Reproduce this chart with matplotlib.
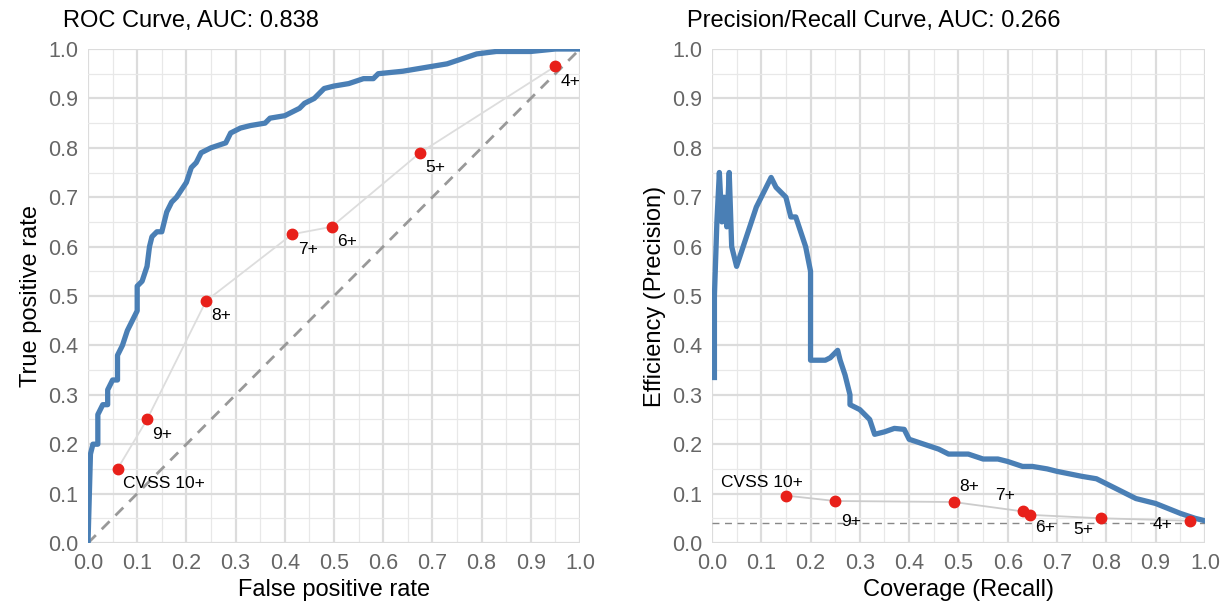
import numpy as np
import matplotlib.pyplot as plt

plt.rcParams['font.family'] = ['Liberation Sans', 'DejaVu Sans']

# ROC curve
roc_fpr = [0, 0.005, 0.01, 0.02, 0.02, 0.03, 0.04, 0.04, 0.05, 0.06, 0.06, 0.07, 0.08,
           0.09, 0.1, 0.1, 0.11, 0.12, 0.125, 0.13, 0.14, 0.15, 0.16, 0.17, 0.18, 0.2,
           0.21, 0.22, 0.23, 0.25, 0.28, 0.29, 0.31, 0.33, 0.36, 0.37, 0.4, 0.41, 0.43,
           0.44, 0.46, 0.48, 0.5, 0.53, 0.56, 0.58, 0.59, 0.64, 0.67, 0.7, 0.73, 0.76,
           0.79, 0.83, 0.9, 0.95, 1.0]
roc_tpr = [0, 0.18, 0.2, 0.2, 0.26, 0.28, 0.28, 0.31, 0.33, 0.33, 0.38, 0.4, 0.43,
           0.45, 0.47, 0.52, 0.53, 0.56, 0.6, 0.62, 0.63, 0.63, 0.67, 0.69, 0.7, 0.73,
           0.76, 0.77, 0.79, 0.8, 0.81, 0.83, 0.84, 0.845, 0.85, 0.86, 0.865, 0.87, 0.88,
           0.89, 0.9, 0.92, 0.925, 0.93, 0.94, 0.94, 0.95, 0.955, 0.96, 0.965, 0.97, 0.98,
           0.99, 0.995, 0.995, 1.0, 1.0]

# precision/recall curve
pr_rec = [0.005, 0.005, 0.01, 0.015, 0.02, 0.025, 0.03, 0.035, 0.04, 0.05, 0.07, 0.09,
          0.11, 0.12, 0.13, 0.14, 0.15, 0.16, 0.17, 0.18, 0.19, 0.2, 0.2, 0.2, 0.21, 0.22,
          0.23, 0.24, 0.255, 0.26, 0.27, 0.28, 0.28, 0.3, 0.32, 0.33, 0.35, 0.37, 0.39,
          0.4, 0.43, 0.46, 0.48, 0.5, 0.52, 0.55, 0.58, 0.6, 0.63, 0.65, 0.68, 0.7, 0.75,
          0.78, 0.8, 0.84, 0.86, 0.9, 0.95, 0.98, 1.0]
pr_prec = [0.335, 0.5, 0.65, 0.75, 0.65, 0.7, 0.64, 0.75, 0.6, 0.56, 0.62, 0.68,
           0.72, 0.74, 0.72, 0.71, 0.7, 0.66, 0.66, 0.63, 0.6, 0.55, 0.5, 0.37, 0.37, 0.37,
           0.37, 0.375, 0.39, 0.37, 0.34, 0.3, 0.28, 0.27, 0.25, 0.22, 0.225, 0.232, 0.23,
           0.21, 0.2, 0.19, 0.18, 0.18, 0.18, 0.17, 0.17, 0.165, 0.155, 0.155, 0.15, 0.145,
           0.135, 0.13, 0.12, 0.1, 0.09, 0.08, 0.06, 0.05, 0.045]

# CVSS threshold points
cvss_labels = ['CVSS 10+', '9+', '8+', '7+', '6+', '5+', '4+']
cvss_fpr = [0.06, 0.12, 0.24, 0.415, 0.495, 0.675, 0.95]
cvss_tpr = [0.15, 0.25, 0.49, 0.625, 0.64, 0.79, 0.965]
cvss_rec = [0.15, 0.25, 0.49, 0.63, 0.645, 0.79, 0.97]
cvss_prec = [0.096, 0.085, 0.083, 0.064, 0.057, 0.05, 0.045]
pr_baseline = 0.04

ticks = np.round(np.arange(0, 1.01, 0.1), 1)
minor = np.round(np.arange(0.05, 1.0, 0.1), 2)

blue = '#4a7fb5'
red = '#e8201a'

fig = plt.figure(figsize=(12.29, 6.11), dpi=100)
ax1 = fig.add_axes([0.0716, 0.1113, 0.4003, 0.8085])
ax2 = fig.add_axes([0.5793, 0.1113, 0.4011, 0.8085])


def style(ax):
    ax.set_xlim(0, 1)
    ax.set_ylim(0, 1)
    ax.set_xticks(ticks)
    ax.set_yticks(ticks)
    ax.set_xticks(minor, minor=True)
    ax.set_yticks(minor, minor=True)
    ax.set_xticklabels(['%.1f' % v for v in ticks])
    ax.set_yticklabels(['%.1f' % v for v in ticks])
    ax.grid(which='major', color='#dcdcdc', lw=1.6)
    ax.grid(which='minor', color='#e8e8e8', lw=0.9)
    ax.set_axisbelow(True)
    for s in ax.spines.values():
        s.set_visible(False)
    ax.tick_params(which='both', length=0, labelsize=15.5, labelcolor='#666666', pad=7)


style(ax1)
ax1.plot([0, 1], [0, 1], ls=(0, (4, 3)), color='#999999', lw=2)
ax1.plot(cvss_fpr, cvss_tpr, color='#dddddd', lw=1.3)
ax1.plot(roc_fpr, roc_tpr, color=blue, lw=3.8, solid_joinstyle='round')
ax1.plot(cvss_fpr, cvss_tpr, 'o', color=red, ms=7.5, zorder=5)
for lab, x, y in zip(cvss_labels, cvss_fpr, cvss_tpr):
    ax1.annotate(lab, (x, y), xytext=(4, -14), textcoords='offset points', fontsize=12.5)
ax1.set_xlabel('False positive rate', fontsize=17)
ax1.set_ylabel('True positive rate', fontsize=17)
ax1.set_title('ROC Curve, AUC: 0.838', fontsize=17, loc='left', x=-0.05, pad=16)

style(ax2)
ax2.axhline(pr_baseline, ls=(0, (5, 4)), color='#888888', lw=1)
ax2.plot(cvss_rec, cvss_prec, color='#cccccc', lw=1.3)
ax2.plot(pr_rec, pr_prec, color=blue, lw=3.8, solid_joinstyle='round')
ax2.plot(cvss_rec, cvss_prec, 'o', color=red, ms=7.5, zorder=5)
offsets = [(-47, 6), (4, -18), (4, 8), (-20, 8), (4, -12), (-20, -11), (-27, -6)]
for lab, x, y, off in zip(cvss_labels, cvss_rec, cvss_prec, offsets):
    ax2.annotate(lab, (x, y), xytext=off, textcoords='offset points', fontsize=12.5)
ax2.set_xlabel('Coverage (Recall)', fontsize=17)
ax2.set_ylabel('Efficiency (Precision)', fontsize=17)
ax2.set_title('Precision/Recall Curve, AUC: 0.266', fontsize=17, loc='left', x=-0.05, pad=16)

fig.savefig('out.png', dpi=100)
